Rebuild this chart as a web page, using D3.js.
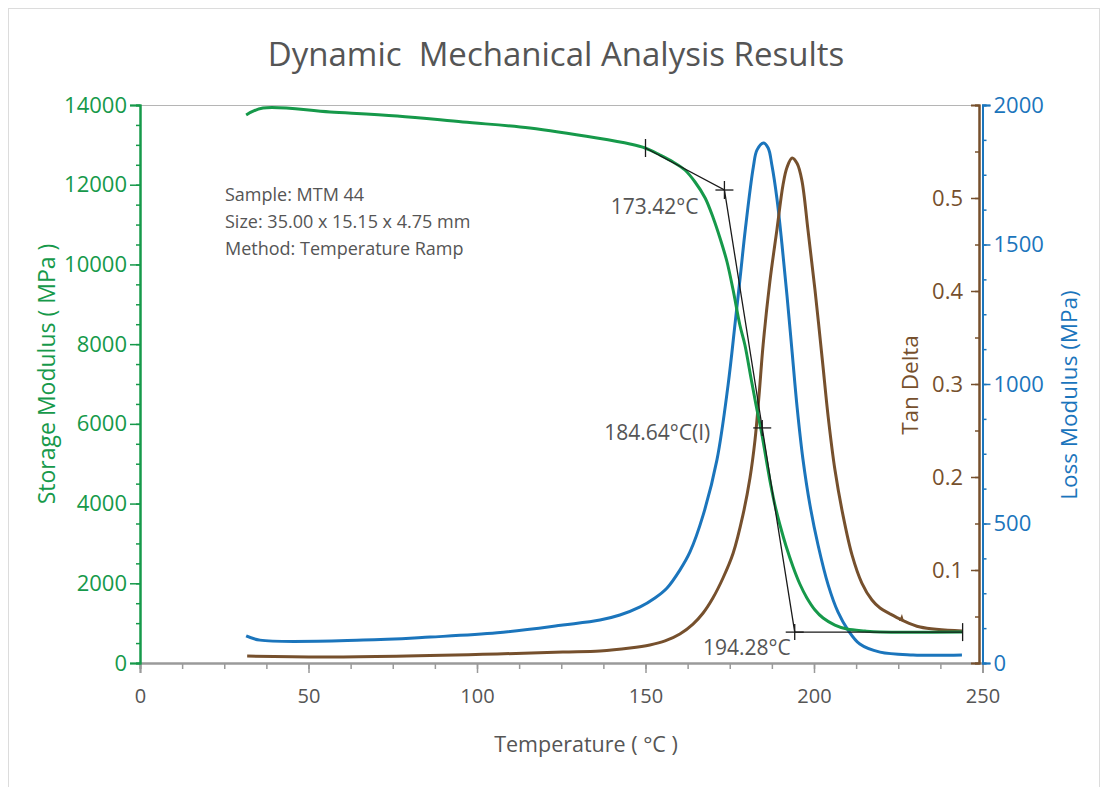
<!DOCTYPE html>
<html><head><meta charset="utf-8">
<script src="https://cdn.jsdelivr.net/npm/d3@7"></script>
<style>body{margin:0;background:#fff}svg{display:block}text{font-family:"Open Sans",sans-serif}</style>
</head><body><svg id="c" width="1103" height="787"></svg>
<script>
// ---- data ----
const storageT = [31.5,36.5,56.4,76.3,95.8,115.7,135.6,145.4,149.9,154.3,158.2,161.7,164.7,167.7,170.1,172.1,174.2,176.0,178.0,179.5,181.3,182.8,184.3,185.8,187.0,188.4,189.9,191.7,193.8,195.8,197.9,200.3,202.7,206.2,209.8,215.1,219.6,244.0];
const storageV = [13749,13925,13825,13724,13574,13423,13172,13022,12921,12746,12570,12369,12068,11667,11165,10663,10061,9358,8480,7979,7151,6473,5846,5118,4541,3964,3462,2936,2409,1982,1631,1330,1129,953,853,803,778,778];
const lossT = [31.5,35.6,66.2,86.1,106.0,125.5,136.5,142.4,148.4,152.8,156.4,160.2,163.2,167.1,171.2,174.5,176.6,178.1,179.6,182.0,183.1,185.0,186.4,187.5,189.0,190.5,192.0,193.5,195.0,196.7,198.8,201.2,204.2,207.1,210.1,213.6,219.6,229.4,243.9];
const lossV = [97,82,82,93,108,136,154,172,201,233,269,333,398,530,728,996,1219,1383,1552,1778,1839,1864,1846,1785,1665,1500,1315,1115,915,732,566,423,280,183,118,68,39,29,29];
const tanT = [31.8,56.4,106.0,125.5,136.5,145.4,151.3,155.8,160.2,164.1,167.1,170.0,173.0,176.0,178.9,181.0,182.5,183.7,184.9,186.9,189.0,190.8,192.0,193.5,195.0,196.4,198.2,200.3,202.5,204.2,206.2,208.6,211.3,214.2,217.2,219.6,222.6,226.1,231.5,243.9];
const tanV = [0.0075,0.0065,0.0097,0.0118,0.0129,0.0161,0.0194,0.0237,0.0312,0.0419,0.0538,0.0699,0.0914,0.118,0.159,0.199,0.240,0.288,0.342,0.410,0.466,0.514,0.533,0.543,0.537,0.519,0.466,0.401,0.325,0.265,0.208,0.159,0.116,0.086,0.0677,0.0591,0.0527,0.0462,0.0387,0.0344];
const xTicks = [0,50,100,150,200,250];
const storageTicks = [0,2000,4000,6000,8000,10000,12000,14000];
const tanTicks = [0.1,0.2,0.3,0.4,0.5];
const lossTicks = [0,500,1000,1500,2000];
// tangent construction points [temperature, storage modulus]
const tangentPts = [[150,12921],[173.42,11867],[194.28,775],[244.1,775]];
const onsetLabels = ["173.42°C","184.64°C(I)","194.28°C"];
const inflection = [184.64,5898];
const infoLines = ["Sample: MTM 44","Size: 35.00 x 15.15 x 4.75 mm","Method: Temperature Ramp"];

const GREEN="#16994a", BLUE="#1b75bc", BROWN="#76502d", GREY="#555", AX="#9a9a9a";
const svg=d3.select("#c");
svg.append("rect").attr("x",8.5).attr("y",8.5).attr("width",1091).attr("height",800).attr("fill","none").attr("stroke","#dcdcdc");

const x=d3.scaleLinear().domain([0,250]).range([140,982.5]);
const yS=d3.scaleLinear().domain([0,14000]).range([663,105]);
const yT=d3.scaleLinear().domain([0,0.6]).range([663,105]);
const yL=d3.scaleLinear().domain([0,2000]).range([663,105]);

svg.append("text").attr("x",556).attr("y",66).attr("text-anchor","middle").attr("fill",GREY)
  .attr("font-size",33).style("white-space","pre").text("Dynamic  Mechanical Analysis Results");

// top frame line
svg.append("line").attr("x1",140).attr("x2",980).attr("y1",105.5).attr("y2",105.5).attr("stroke","#b5b5b5");

function styleAxis(g,color,fs,tc){
  g.select(".domain").attr("stroke",color).attr("stroke-width",2);
  g.selectAll(".tick line").attr("stroke",color).attr("stroke-width",1.5);
  g.selectAll("text").attr("fill",tc||color).attr("font-size",fs).style("font-family","Open Sans");
}
// x axis
const gxm=svg.append("g").attr("transform","translate(0,663)").call(d3.axisBottom(x).tickValues(d3.range(0,250.1,12.5)).tickSize(6).tickFormat(""));
styleAxis(gxm,AX,0);
const gx=svg.append("g").attr("transform","translate(0,663)").call(d3.axisBottom(x).tickValues(xTicks).tickSize(10).tickPadding(16).tickFormat(d3.format("d")));
styleAxis(gx,AX,20,GREY);

// storage axis (left)
const gsm=svg.append("g").attr("transform","translate(140,0)").call(d3.axisLeft(yS).tickValues(d3.range(0,14001,500)).tickSize(4).tickFormat(""));
styleAxis(gsm,GREEN,0);
const gs=svg.append("g").attr("transform","translate(140,0)").call(d3.axisLeft(yS).tickValues(storageTicks).tickSize(10).tickPadding(3).tickFormat(d3.format("d")));
styleAxis(gs,GREEN,22);

// tan delta axis
const gtm=svg.append("g").attr("transform","translate(979,0)").call(d3.axisLeft(yT).tickValues(d3.range(0,0.601,0.05)).tickSize(4).tickFormat(""));
styleAxis(gtm,BROWN,0);
const gt=svg.append("g").attr("transform","translate(979,0)").call(d3.axisLeft(yT).tickValues(tanTicks).tickSize(8).tickPadding(8).tickFormat(d3.format(".1f")));
styleAxis(gt,BROWN,22);

// loss axis
const glm=svg.append("g").attr("transform","translate(982.5,0)").call(d3.axisRight(yL).tickValues(d3.range(0,2001,125)).tickSize(4).tickFormat(""));
styleAxis(glm,BLUE,0);
const gl=svg.append("g").attr("transform","translate(982.5,0)").call(d3.axisRight(yL).tickValues(lossTicks).tickSize(8).tickPadding(3).tickFormat(d3.format("d")));
styleAxis(gl,BLUE,22);

// axis titles
svg.append("text").attr("transform","translate(55,374) rotate(-90)").attr("text-anchor","middle").attr("fill",GREEN).attr("font-size",23).style("white-space","pre").text("Storage Modulus ( MPa )");
svg.append("text").attr("transform","translate(918,385) rotate(-90)").attr("text-anchor","middle").attr("fill",BROWN).attr("font-size",22.5).text("Tan Delta");
svg.append("text").attr("transform","translate(1077,395) rotate(-90)").attr("text-anchor","middle").attr("fill",BLUE).attr("font-size",22.5).text("Loss Modulus (MPa)");
svg.append("text").attr("x",586).attr("y",752).attr("text-anchor","middle").attr("fill",GREY).attr("font-size",21.5).style("white-space","pre").text("Temperature ( °C )");

// info text
infoLines.forEach((t,i)=>svg.append("text").attr("x",225).attr("y",201+i*27).attr("fill",GREY).attr("font-size",18).text(t));

// curves
const curve=d3.curveCatmullRom.alpha(0.5);
function drawLine(ts,vs,ys,color){
  svg.append("path").datum(ts.map((t,i)=>[t,vs[i]]))
    .attr("d",d3.line().x(d=>x(d[0])).y(d=>ys(d[1])).curve(curve))
    .attr("fill","none").attr("stroke",color).attr("stroke-width",3).attr("stroke-linejoin","round");
}
drawLine(lossT,lossV,yL,BLUE);
drawLine(tanT,tanV,yT,BROWN);
drawLine(storageT,storageV,yS,GREEN);

// small marker on tan delta tail
const mk=[226.1,0.0462];
svg.append("path").attr("d",`M${x(mk[0])-3},${yT(mk[1])+1}L${x(mk[0])},${yT(mk[1])-6}L${x(mk[0])+2},${yT(mk[1])+1}Z`).attr("fill",BROWN);

// tangent construction
const tl=d3.line().x(d=>x(d[0])).y(d=>yS(d[1]));
svg.append("path").datum(tangentPts).attr("d",tl).attr("fill","none").attr("stroke","#1a1a1a").attr("stroke-width",1.3);
function cross(t,v,h,vv){
  const cx=x(t),cy=yS(v);
  const g=svg.append("g").attr("stroke","#1a1a1a").attr("stroke-width",1.3);
  if(h) g.append("line").attr("x1",cx-h).attr("x2",cx+h).attr("y1",cy).attr("y2",cy);
  if(vv) g.append("line").attr("x1",cx).attr("x2",cx).attr("y1",cy-vv).attr("y2",cy+vv);
}
cross(tangentPts[0][0],tangentPts[0][1],0,9);
cross(tangentPts[1][0],tangentPts[1][1],9,9);
cross(inflection[0],inflection[1],9,8);
cross(tangentPts[2][0],tangentPts[2][1],9,8);
cross(tangentPts[3][0],tangentPts[3][1],0,9);

svg.append("text").attr("x",x(tangentPts[1][0])-26).attr("y",yS(tangentPts[1][1])+24).attr("text-anchor","end").attr("fill",GREY).attr("font-size",21).text(onsetLabels[0]);
svg.append("text").attr("x",x(inflection[0])-52).attr("y",yS(inflection[1])+12).attr("text-anchor","end").attr("fill",GREY).attr("font-size",21).text(onsetLabels[1]);
svg.append("text").attr("x",x(tangentPts[2][0])-4).attr("y",yS(tangentPts[2][1])+23).attr("text-anchor","end").attr("fill",GREY).attr("font-size",21).text(onsetLabels[2]);
</script></body></html>
